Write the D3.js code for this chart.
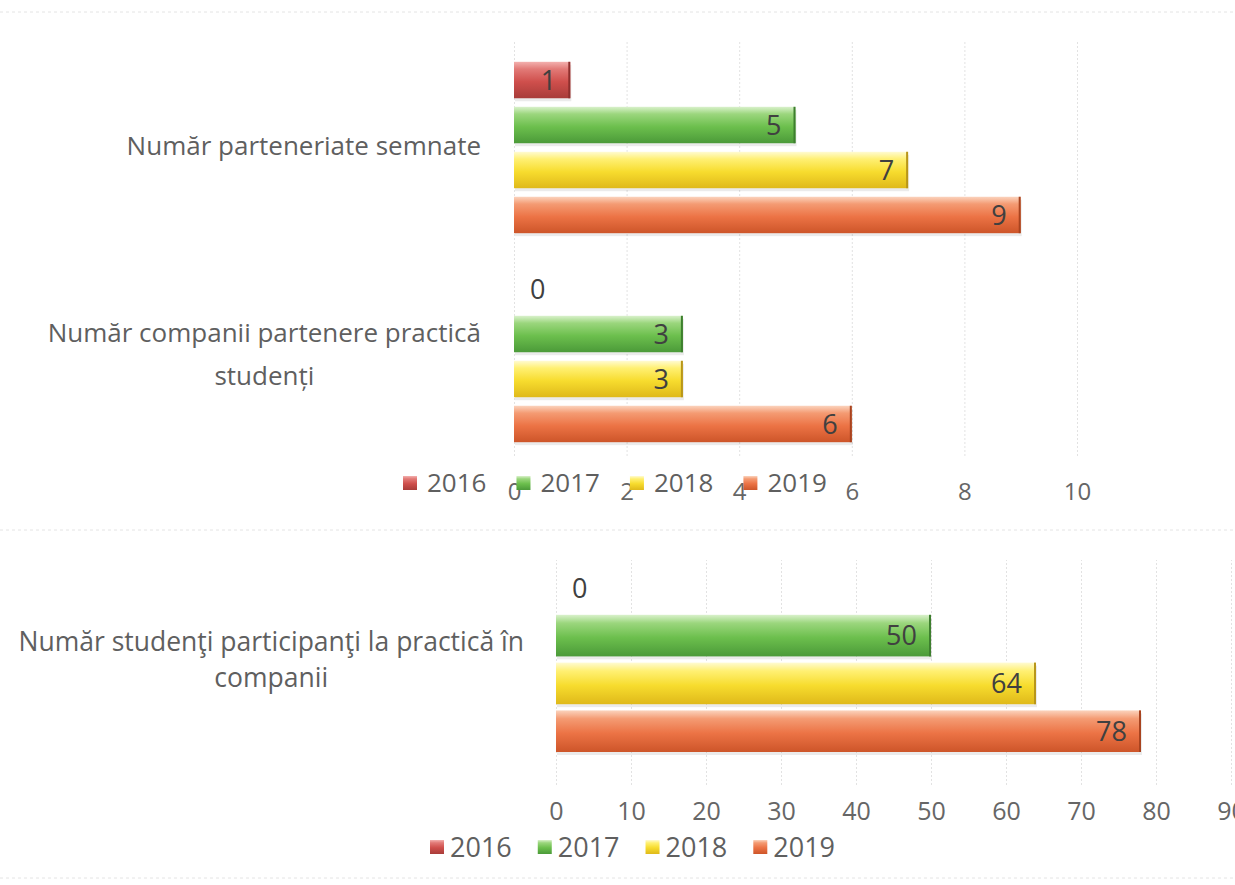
<!DOCTYPE html>
<html>
<head>
<meta charset="utf-8">
<script src="https://cdn.jsdelivr.net/npm/d3@7"></script>
<style>
  body { margin: 0; background: #fff; }
  text { font-family: "Open Sans", "DejaVu Sans", sans-serif; }
</style>
</head>
<body>
<svg id="chart"></svg>
<script>
// data
var years = ['2016', '2017', '2018', '2019'];

// top chart
var topCategories = ['parteneriate', 'companii'];
var topLabelLines = [['Număr parteneriate semnate'], ['Număr companii partenere practică', 'studenți']];
var parteneriateSemnate = [1, 5, 7, 9];
var companiiPractica = [0, 3, 3, 6];
var topTicks = [0, 2, 4, 6, 8, 10];

// bottom chart
var bottomCategories = ['studenti'];
var bottomLabelLines = [['Număr studenţi participanţi la practică în', 'companii']];
var studentiPractica = [0, 50, 64, 78];
var bottomTicks = [0, 10, 20, 30, 40, 50, 60, 70, 80, 90];

// bevel gradients per year: [top, highlight, base, bottom]
var yearStops = [
  ['#f3b0ae', '#e27a77', '#cf4f4c', '#a83c39'],
  ['#d9f1cb', '#9bd67d', '#6cbf4d', '#4b9a39'],
  ['#fffbd2', '#fff073', '#f7dc2e', '#dfb91a'],
  ['#fbd3bd', '#f49b73', '#ec7345', '#cd5529']
];
var yearEdge = ['#8e2f2d', '#3d7f2e', '#b8961a', '#a8431f'];

var W = 1235, H = 885;
var svg = d3.select('#chart').attr('width', W).attr('height', H);

var defs = svg.append('defs');
yearStops.forEach(function(s, i) {
  var g = defs.append('linearGradient')
    .attr('id', 'grad' + i)
    .attr('x1', 0).attr('y1', 0).attr('x2', 0).attr('y2', 1);
  g.append('stop').attr('offset', '0%').attr('stop-color', s[0]);
  g.append('stop').attr('offset', '20%').attr('stop-color', s[1]);
  g.append('stop').attr('offset', '55%').attr('stop-color', s[2]);
  g.append('stop').attr('offset', '100%').attr('stop-color', s[3]);
});

// faint frame lines like the scanned page
[12, 530, 878].forEach(function(y) {
  svg.append('line')
    .attr('x1', 0).attr('x2', W)
    .attr('y1', y).attr('y2', y)
    .attr('stroke', '#e4e4e4')
    .attr('stroke-dasharray', '3,3');
});

function drawChart(o) {
  var g = svg.append('g');

  var x = d3.scaleLinear().domain(o.xDomain).range(o.xRange);
  var y0 = d3.scaleBand().domain(o.categories).range(o.yRange)
    .paddingInner(o.groupInner).paddingOuter(o.groupOuter);
  var y1 = d3.scaleBand().domain(years).range([0, y0.bandwidth()])
    .paddingInner(o.barPad);

  // grid
  g.append('g')
    .attr('transform', 'translate(0,' + o.gridBottom + ')')
    .call(d3.axisBottom(x).tickValues(o.ticks).tickSize(-(o.gridBottom - o.gridTop)).tickFormat(''))
    .call(function(a) {
      a.select('.domain').remove();
      a.selectAll('line').attr('stroke', '#e2e2e2').attr('stroke-dasharray', '2,2');
    });

  // tick labels
  g.append('g')
    .attr('transform', 'translate(0,' + o.tickY + ')')
    .call(d3.axisBottom(x).tickValues(o.ticks).tickSize(0).tickPadding(0))
    .call(function(a) {
      a.select('.domain').remove();
      a.selectAll('text')
        .attr('font-size', o.tickFont + 'px')
        .attr('font-family', '"Open Sans", sans-serif')
        .attr('fill', '#666');
    });

  // bars
  o.categories.forEach(function(c, ci) {
    var vals = o.series[ci];
    var grp = g.append('g').attr('transform', 'translate(0,' + y0(c) + ')');
    vals.forEach(function(v, i) {
      var by = y1(years[i]), bh = y1.bandwidth();
      if (v > 0) {
        grp.append('rect')
          .attr('x', x(0) + 1)
          .attr('y', by + 3)
          .attr('width', x(v) - x(0))
          .attr('height', bh)
          .attr('fill', '#000')
          .attr('opacity', 0.08);
        grp.append('rect')
          .attr('x', x(0))
          .attr('y', by)
          .attr('width', x(v) - x(0))
          .attr('height', bh)
          .attr('fill', 'url(#grad' + i + ')');
        grp.append('rect')
          .attr('x', x(v) - 2)
          .attr('y', by)
          .attr('width', 2)
          .attr('height', bh)
          .attr('fill', yearEdge[i]);
      }
      grp.append('text')
        .attr('x', v > 0 ? x(v) - 14 : x(0) + 16)
        .attr('y', by + bh / 2)
        .attr('dy', '0.36em')
        .attr('text-anchor', v > 0 ? 'end' : 'start')
        .attr('font-size', o.valueFont + 'px')
        .attr('fill', '#404040')
        .text(v);
    });

    // category label, lines centered on each other, block right aligned
    var lines = o.labelLines[ci];
    var cy = y0(c) + y0.bandwidth() / 2 + o.labelShift;
    var texts = lines.map(function(t, li) {
      return g.append('text')
        .attr('y', cy + (li - (lines.length - 1) / 2) * o.lineH)
        .attr('dy', '0.36em')
        .attr('text-anchor', 'middle')
        .attr('font-size', o.labelFont + 'px')
        .attr('fill', '#5f5f5f')
        .text(t);
    });
    var maxW = d3.max(texts, function(t) { return t.node().getComputedTextLength(); });
    texts.forEach(function(t) { t.attr('x', o.labelRight - maxW / 2); });
  });

  // legend
  var lx = o.legendX;
  years.forEach(function(yr, i) {
    g.append('rect')
      .attr('x', lx)
      .attr('y', o.legendY - 7)
      .attr('width', 14)
      .attr('height', 14)
      .attr('fill', 'url(#grad' + i + ')');
    var t = g.append('text')
      .attr('x', lx + o.legendText)
      .attr('y', o.legendY)
      .attr('dy', '0.36em')
      .attr('font-size', o.legendFont + 'px')
      .attr('fill', '#5f5f5f')
      .text(yr);
    lx += o.legendText + t.node().getComputedTextLength() + o.legendGap;
  });
}

drawChart({
  categories: topCategories,
  labelLines: topLabelLines,
  series: [parteneriateSemnate, companiiPractica],
  ticks: topTicks,
  xDomain: [0, 10],
  xRange: [514, 1077],
  yRange: [43, 461],
  groupInner: 0.18,
  groupOuter: 0.09,
  barPad: 0.19,
  gridTop: 40,
  gridBottom: 456,
  tickY: 483,
  tickFont: 24,
  valueFont: 27,
  labelFont: 26,
  labelShift: -2,
  lineH: 43,
  labelRight: 481,
  legendX: 403,
  legendY: 483,
  legendFont: 26,
  legendText: 24,
  legendGap: 30
});

drawChart({
  categories: bottomCategories,
  labelLines: bottomLabelLines,
  series: [studentiPractica],
  ticks: bottomTicks,
  xDomain: [0, 90],
  xRange: [556, 1231],
  yRange: [548.5, 770.5],
  groupInner: 0,
  groupOuter: 0.1,
  barPad: 0.13,
  gridTop: 560,
  gridBottom: 785,
  tickY: 802,
  tickFont: 25,
  valueFont: 27,
  labelFont: 26.5,
  labelShift: 0,
  lineH: 36,
  labelRight: 524,
  legendX: 430,
  legendY: 847,
  legendFont: 27,
  legendText: 20,
  legendGap: 26
});
</script>
</body>
</html>
